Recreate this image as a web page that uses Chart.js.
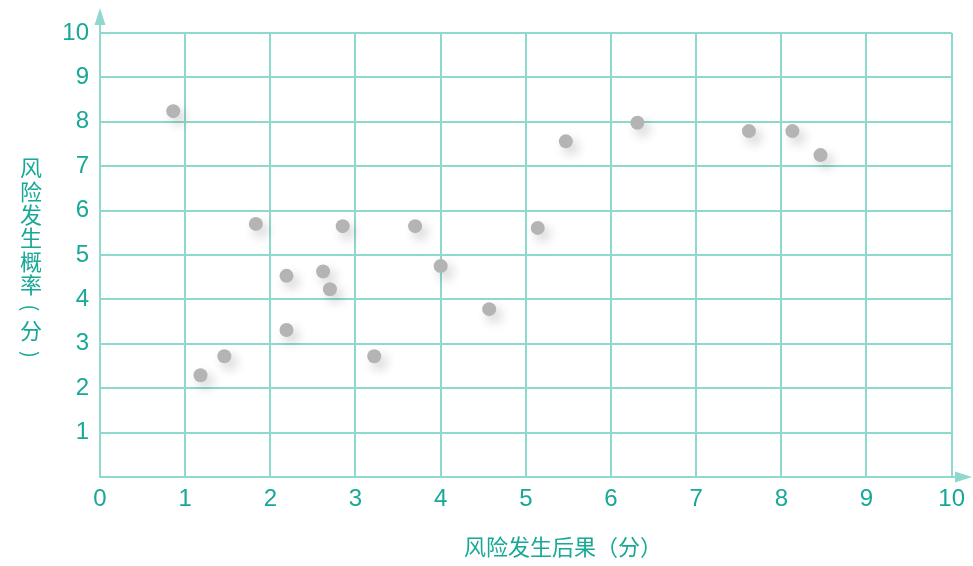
<!DOCTYPE html>
<html>
<head>
<meta charset="utf-8">
<script src="https://cdn.jsdelivr.net/npm/chart.js@4.4.1/dist/chart.umd.min.js"></script>
<style>
  html, body { margin: 0; padding: 0; background: #fff; }
  #wrap { width: 973px; height: 566px; position: relative; }
</style>
</head>
<body>
<div id="wrap"><canvas id="risk"></canvas></div>
<script>
// risk consequence (x) vs probability (y), both scored 0-10
const consequence = [0.86, 1.18, 1.46, 1.83, 2.19, 2.19, 2.62, 2.70, 2.85, 3.22,
                     3.70, 4.00, 4.57, 5.14, 5.47, 6.31, 7.62, 8.13, 8.46];
const probability = [8.24, 2.29, 2.72, 5.70, 4.53, 3.31, 4.63, 4.23, 5.65, 2.72,
                     5.65, 4.75, 3.78, 5.61, 7.56, 7.98, 7.79, 7.79, 7.25];
const xTicks = [0, 1, 2, 3, 4, 5, 6, 7, 8, 9, 10];
const yTicks = [1, 2, 3, 4, 5, 6, 7, 8, 9, 10];
const xTitle = "风险发生后果（分）";
const yTitle = ["风", "险", "发", "生", "概", "率", "(", "分", ")"];

const teal = "#17a896";
const gridTeal = "#8fd8cd";
const cjk = "'Noto Sans CJK SC', sans-serif";
const num = "'Liberation Sans', Arial, sans-serif";

const points = consequence.map((x, i) => ({ x: x, y: probability[i] }));

// soft shadow under each dot
const dotShadow = {
  id: "dotShadow",
  beforeDatasetsDraw(chart) {
    chart.ctx.save();
    chart.ctx.shadowColor = "rgba(0,0,0,0.2)";
    chart.ctx.shadowBlur = 12;
    chart.ctx.shadowOffsetX = 5;
    chart.ctx.shadowOffsetY = 6;
  },
  afterDatasetsDraw(chart) {
    chart.ctx.restore();
  }
};

// arrow heads and the two axis titles (y title is stacked, not rotated)
const axisDecor = {
  id: "axisDecor",
  afterDraw(chart) {
    const ctx = chart.ctx;
    const x = chart.scales.x, y = chart.scales.y;
    const x0 = x.getPixelForValue(0), y0 = y.getPixelForValue(0);
    const yTop = y.getPixelForValue(10), xEnd = x.getPixelForValue(10);
    ctx.save();
    ctx.strokeStyle = gridTeal;
    ctx.fillStyle = gridTeal;
    ctx.lineWidth = 2;
    ctx.beginPath();
    ctx.moveTo(x0, yTop);
    ctx.lineTo(x0, 20);
    ctx.moveTo(xEnd, y0);
    ctx.lineTo(962, y0);
    ctx.stroke();
    ctx.beginPath();
    ctx.moveTo(x0, 8);
    ctx.lineTo(x0 - 5.5, 25);
    ctx.lineTo(x0 + 5.5, 25);
    ctx.closePath();
    ctx.fill();
    ctx.beginPath();
    ctx.moveTo(972, y0);
    ctx.lineTo(955, y0 - 5.5);
    ctx.lineTo(955, y0 + 5.5);
    ctx.closePath();
    ctx.fill();

    ctx.fillStyle = teal;
    ctx.font = "22px " + cjk;
    ctx.textAlign = "center";
    ctx.textBaseline = "middle";
    ctx.fillText(xTitle, 563, 547);
    yTitle.forEach((ch, i) => {
      const cy = 168 + i * 23.3;
      if (ch === "(" || ch === ")") {
        // brackets turned sideways, as in vertical writing
        ctx.save();
        ctx.translate(31, cy);
        ctx.rotate(Math.PI / 2);
        ctx.font = "20px " + cjk;
        ctx.fillText(ch, 0, 0);
        ctx.restore();
      } else {
        ctx.fillText(ch, 31, cy);
      }
    });
    ctx.restore();
  }
};

new Chart(document.getElementById("risk"), {
  type: "scatter",
  data: {
    datasets: [
      {
        data: points,
        backgroundColor: "#b4b4b4",
        borderWidth: 0,
        pointRadius: 7,
        pointHoverRadius: 7
      }
    ]
  },
  options: {
    responsive: true,
    maintainAspectRatio: false,
    animation: false,
    layout: { padding: { top: 33, right: 21, left: 0, bottom: 0 } },
    plugins: {
      legend: { display: false },
      tooltip: { enabled: false }
    },
    scales: {
      x: {
        type: "linear",
        min: 0,
        max: 10,
        afterBuildTicks(scale) {
          scale.ticks = xTicks.map(v => ({ value: v }));
        },
        afterFit(scale) { scale.height = 89; },
        grid: { color: gridTeal, lineWidth: 2, drawTicks: false },
        border: { color: gridTeal, width: 2 },
        ticks: { color: teal, padding: 8, font: { family: num, size: 24 } },
        title: { display: false }
      },
      y: {
        type: "linear",
        min: 0,
        max: 10,
        afterBuildTicks(scale) {
          scale.ticks = yTicks.map(v => ({ value: v }));
        },
        afterFit(scale) { scale.width = 100; },
        grid: { color: gridTeal, lineWidth: 2, drawTicks: false },
        border: { color: gridTeal, width: 2 },
        ticks: { color: teal, padding: 11, font: { family: num, size: 24 } },
        title: { display: false }
      }
    }
  },
  plugins: [dotShadow, axisDecor]
});
</script>
</body>
</html>
